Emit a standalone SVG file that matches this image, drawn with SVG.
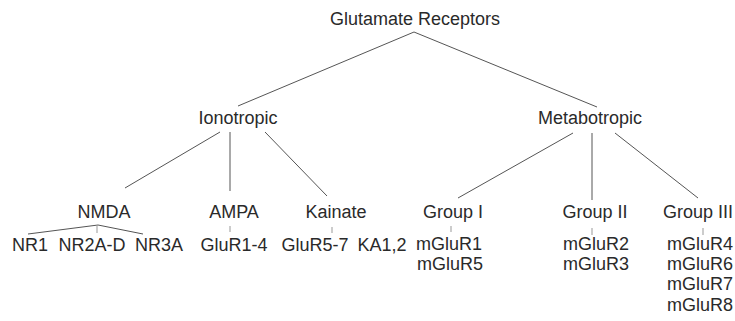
<svg xmlns="http://www.w3.org/2000/svg" width="735" height="321" viewBox="0 0 735 321">
<style>
text{font-family:"Liberation Sans",Arial,sans-serif;font-size:18px;fill:#2a2a2a;text-anchor:middle}
.c line,.c polyline{stroke:#555;stroke-width:1;fill:none}
.c .t{stroke:#999}
</style>
<rect width="735" height="321" fill="#fff"/>
<g id="connectors" class="c">
<line x1="414" y1="32" x2="238" y2="106"/>
<line x1="414" y1="32" x2="597" y2="107"/>
<line x1="220" y1="132" x2="125" y2="188"/>
<line x1="230" y1="132" x2="230" y2="191"/>
<line x1="265" y1="132" x2="327" y2="196"/>
<line x1="573" y1="133" x2="458" y2="198"/>
<line x1="592" y1="133" x2="592" y2="200"/>
<line x1="615" y1="133" x2="698" y2="198"/>
<polyline points="28,234 98,225 143,234"/>
<line class="t" x1="97" y1="225" x2="97" y2="233"/>
<line class="t" x1="230" y1="226" x2="230" y2="232"/>
<line class="t" x1="332" y1="227" x2="332" y2="233"/>
<line class="t" x1="451" y1="226" x2="451" y2="232"/>
<line class="t" x1="592" y1="228" x2="592" y2="235"/>
<line class="t" x1="703" y1="228" x2="703" y2="235"/>
</g>
<g id="root"><text x="415" y="25">Glutamate Receptors</text></g>
<g id="ionotropic"><text x="238" y="124">Ionotropic</text></g>
<g id="metabotropic"><text x="590" y="124">Metabotropic</text></g>
<g id="nmda"><text x="104" y="218">NMDA</text></g>
<g id="ampa"><text x="234" y="218">AMPA</text></g>
<g id="kainate"><text x="336" y="218">Kainate</text></g>
<g id="group1"><text x="453" y="218">Group I</text></g>
<g id="group2"><text x="595" y="218">Group II</text></g>
<g id="group3"><text x="698" y="218">Group III</text></g>
<g id="nr1"><text x="30" y="251">NR1</text></g>
<g id="nr2"><text x="92" y="251">NR2A-D</text></g>
<g id="nr3"><text x="159" y="251">NR3A</text></g>
<g id="glur14"><text x="234" y="251">GluR1-4</text></g>
<g id="glur57"><text x="315" y="251">GluR5-7</text></g>
<g id="ka12"><text x="382" y="251">KA1,2</text></g>
<g id="mglur-g1"><text x="449" y="250">mGluR1</text><text x="450" y="270">mGluR5</text></g>
<g id="mglur-g2"><text x="596" y="250">mGluR2</text><text x="596" y="270">mGluR3</text></g>
<g id="mglur-g3"><text x="700" y="250">mGluR4</text><text x="700" y="270">mGluR6</text><text x="700" y="290">mGluR7</text><text x="700" y="311">mGluR8</text></g>
</svg>
